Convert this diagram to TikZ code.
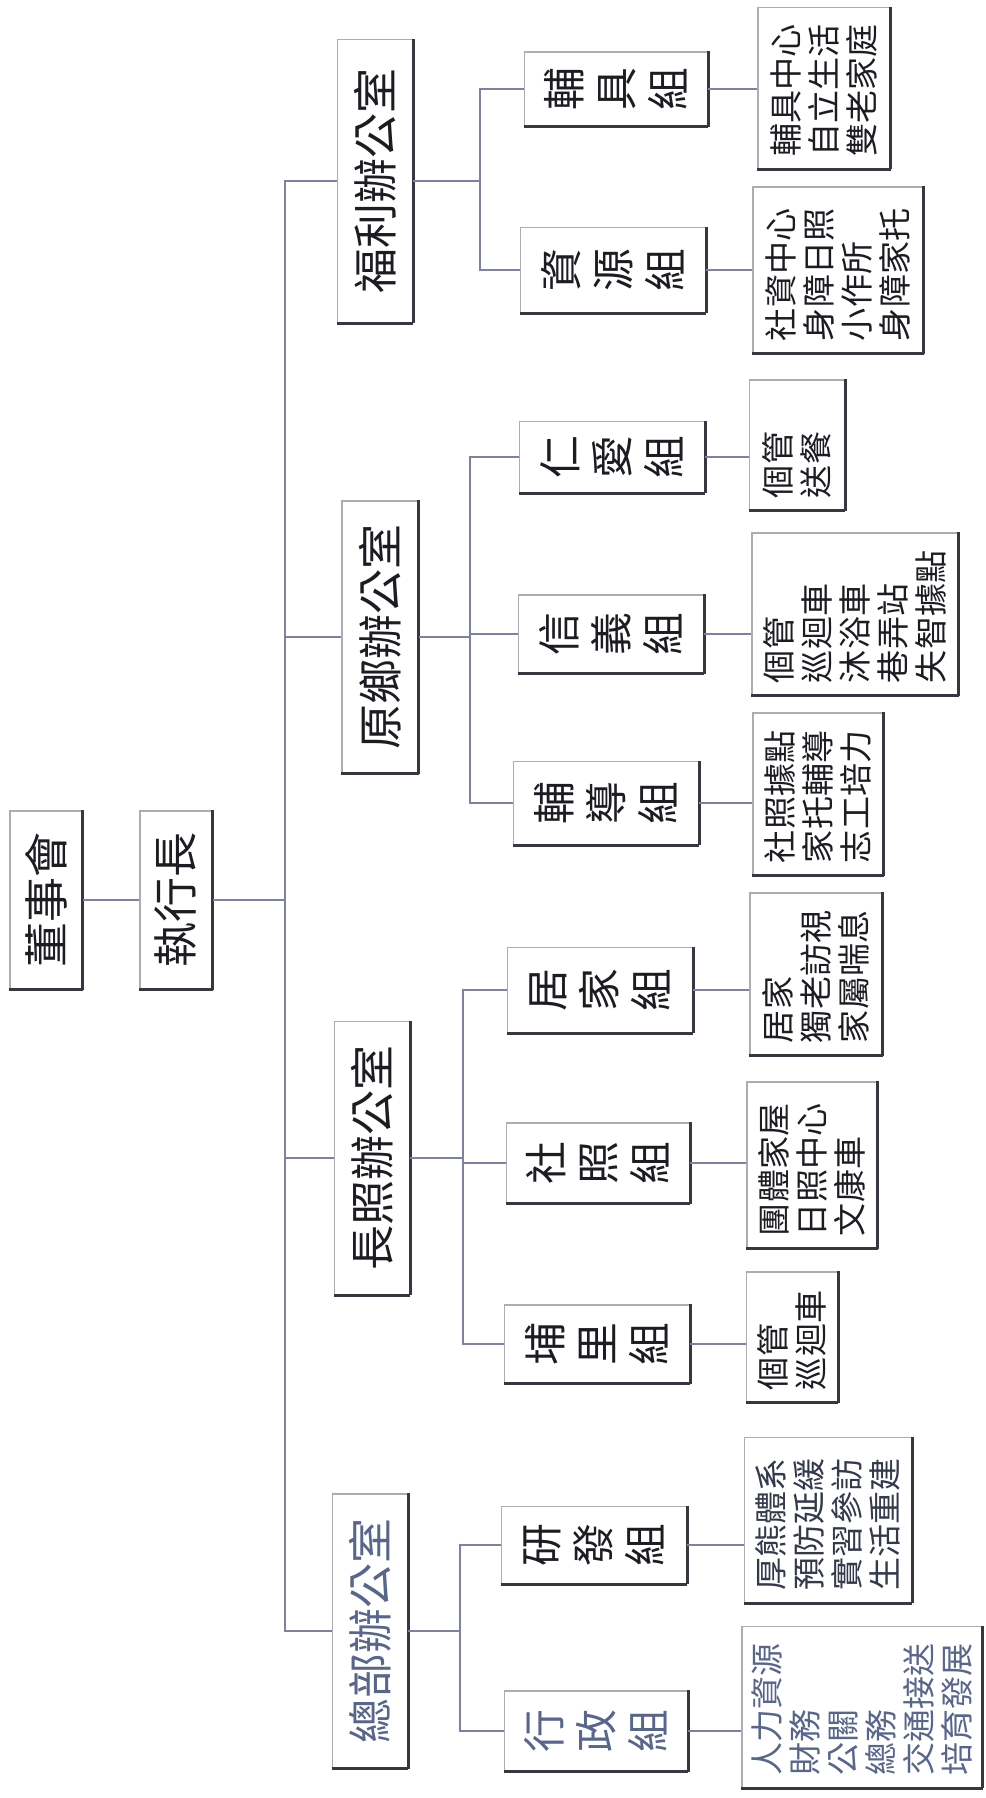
\documentclass[tikz,border=0pt]{standalone}
\usepackage{fontspec}
\usepackage{tikz}
\usepackage{color}
\newfontfamily\cjkfont{Noto Sans CJK TC}
\definecolor{linkcol}{RGB}{125,130,165}
\definecolor{edgelight}{RGB}{172,172,180}
\definecolor{edgedark}{RGB}{55,55,65}
\definecolor{inkcol}{RGB}{28,28,34}
\definecolor{fadeink}{RGB}{88,102,140}

\begin{document}
\begin{tikzpicture}[x=0.01cm, y=-0.01cm,
        box/.style={draw=edgelight, line width=0.4pt, rotate=90, inner sep=0pt, text=inkcol,
            append after command={(\tikzlastnode.north west) edge[draw=edgedark, line width=0.8pt] (\tikzlastnode.south west)
                (\tikzlastnode.south west) edge[draw=edgedark, line width=0.8pt] (\tikzlastnode.south east)}},
        topbox/.style={box, font=\cjkfont\fontsize{12.8}{14}\selectfont},
        officebox/.style={box, font=\cjkfont\fontsize{12.8}{14}\selectfont},
        groupbox/.style={box, align=center, font=\cjkfont\fontsize{12.2}{14.8}\selectfont},
        listbox/.style={box, align=left, inner xsep=0.12cm, font=\cjkfont\fontsize{9.4}{10.8}\selectfont},
        link/.style={draw=linkcol, line width=0.45pt}]
            \path[use as bounding box, fill=white] (0, 0) rectangle (985, 1798);

            \node[topbox, minimum width=1.78cm, minimum height=0.72cm] (board) at (46, 900) {董事會};
            \node[topbox, minimum width=1.78cm, minimum height=0.72cm] (ceo) at (176, 900) {執行長};

            \node[officebox, minimum width=2.83cm, minimum height=0.75cm] (welfare) at (375, 181) {福利辦公室};
            \node[officebox, minimum width=2.72cm, minimum height=0.76cm] (rural) at (380, 637) {原鄉辦公室};
            \node[officebox, minimum width=2.73cm, minimum height=0.75cm] (ltc) at (372, 1158) {長照辦公室};
            \node[officebox, minimum width=2.74cm, minimum height=0.75cm, text=fadeink] (hq) at (370, 1631) {總部辦公室};

            \node[groupbox, minimum width=0.74cm, minimum height=1.83cm] (aids) at (616, 89) {輔\\具\\組};
            \node[groupbox, minimum width=0.85cm, minimum height=1.85cm] (resrc) at (613, 270) {資\\源\\組};
            \node[groupbox, minimum width=0.71cm, minimum height=1.85cm] (renai) at (612, 457) {仁\\愛\\組};
            \node[groupbox, minimum width=0.78cm, minimum height=1.85cm] (xinyi) at (611, 634) {信\\義\\組};
            \node[groupbox, minimum width=0.83cm, minimum height=1.85cm] (guide) at (606, 803) {輔\\導\\組};
            \node[groupbox, minimum width=0.85cm, minimum height=1.85cm] (homec) at (600, 990) {居\\家\\組};
            \node[groupbox, minimum width=0.80cm, minimum height=1.83cm] (commc) at (598, 1163) {社\\照\\組};
            \node[groupbox, minimum width=0.78cm, minimum height=1.85cm] (puli) at (597, 1344) {埔\\里\\組};
            \node[groupbox, minimum width=0.77cm, minimum height=1.85cm] (rnd) at (594, 1545) {研\\發\\組};
            \node[groupbox, minimum width=0.80cm, minimum height=1.83cm, text=fadeink] (admin) at (596, 1731) {行\\政\\組};

            \node[listbox, text width=1.37cm, minimum height=1.32cm] (aidsd) at (824, 88) {輔具中心\\自立生活\\雙老家庭};
            \node[listbox, text width=1.42cm, minimum height=1.70cm] (resrcd) at (838, 270) {社資中心\\身障日照\\小作所\\身障家托};
            \node[listbox, text width=1.06cm, minimum height=0.95cm] (renaid) at (797, 445) {個管\\送餐};
            \node[listbox, text width=1.38cm, minimum height=2.06cm] (xinyid) at (855, 614) {個管\\巡迴車\\沐浴車\\巷弄站\\失智據點};
            \node[listbox, text width=1.38cm, minimum height=1.30cm] (guided) at (818, 794) {社照據點\\家托輔導\\志工培力};
            \node[listbox, text width=1.38cm, minimum height=1.32cm] (homecd) at (816, 974) {居家\\獨老訪視\\家屬喘息};
            \node[listbox, text width=1.42cm, minimum height=1.30cm] (commcd) at (812, 1165) {團體家屋\\日照中心\\文康車};
            \node[listbox, text width=1.06cm, minimum height=0.91cm] (pulid) at (792, 1337) {個管\\巡迴車};
            \node[listbox, text width=1.41cm, minimum height=1.67cm, text=inkcol!60!fadeink] (rndd) at (828, 1520) {厚熊體系\\預防延緩\\實習參訪\\生活重建};
            \node[listbox, text width=1.37cm, minimum height=2.40cm, text=fadeink] (admind) at (862, 1707) {人力資源\\財務\\公關\\總務\\交通接送\\培育發展};

            \coordinate (spine) at (285, 0);
            \coordinate (wbr) at (480, 0);
            \coordinate (rbr) at (470, 0);
            \coordinate (lbr) at (463, 0);
            \coordinate (hbr) at (460, 0);

            \draw[link] (board.south) -- (ceo.north);
            \draw[link] (ceo.south) -- (ceo.south -| spine);
            \draw[link] (welfare.north) -| (spine |- hq.north) -- (hq.north);
            \draw[link] (rural.north) -- (rural.north -| spine);
            \draw[link] (ltc.north) -- (ltc.north -| spine);

            \draw[link] (welfare.south) -- (welfare.south -| wbr);
            \draw[link] (aids.north) -| (wbr |- resrc.north) -- (resrc.north);
            \draw[link] (rural.south) -- (rural.south -| rbr);
            \draw[link] (renai.north) -| (rbr |- guide.north) -- (guide.north);
            \draw[link] (xinyi.north) -- (xinyi.north -| rbr);
            \draw[link] (ltc.south) -- (ltc.south -| lbr);
            \draw[link] (homec.north) -| (lbr |- puli.north) -- (puli.north);
            \draw[link] (commc.north) -- (commc.north -| lbr);
            \draw[link] (hq.south) -- (hq.south -| hbr);
            \draw[link] (rnd.north) -| (hbr |- admin.north) -- (admin.north);

            \draw[link] (aids.south) -- (aids.south -| aidsd.north);
            \draw[link] (resrc.south) -- (resrc.south -| resrcd.north);
            \draw[link] (renai.south) -- (renai.south -| renaid.north);
            \draw[link] (xinyi.south) -- (xinyi.south -| xinyid.north);
            \draw[link] (guide.south) -- (guide.south -| guided.north);
            \draw[link] (homec.south) -- (homec.south -| homecd.north);
            \draw[link] (commc.south) -- (commc.south -| commcd.north);
            \draw[link] (puli.south) -- (puli.south -| pulid.north);
            \draw[link] (rnd.south) -- (rnd.south -| rndd.north);
            \draw[link] (admin.south) -- (admin.south -| admind.north); % last row of the chart
        \end{tikzpicture}
\end{document}
